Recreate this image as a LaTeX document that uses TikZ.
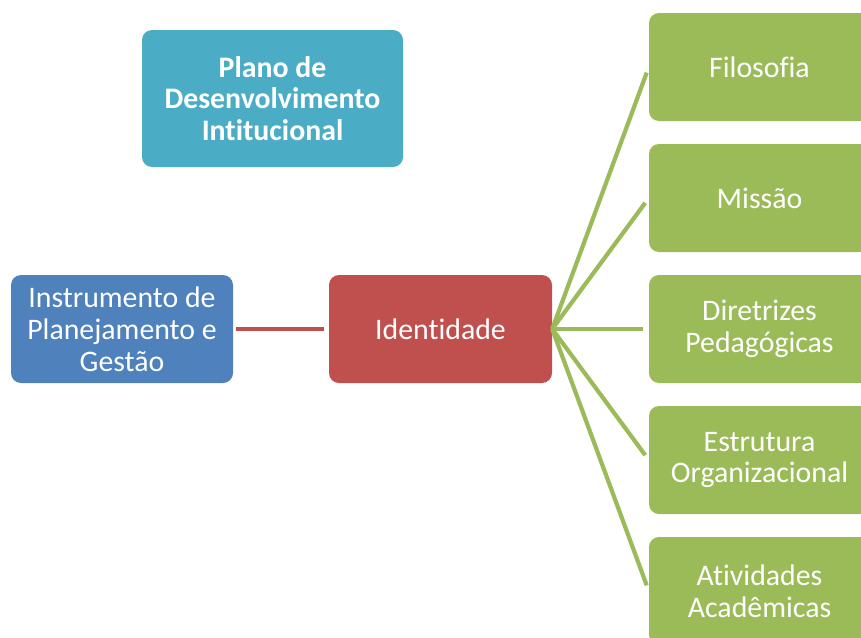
\documentclass[tikz,border=0pt]{standalone}
\usepackage{fontspec}
\setmainfont{Carlito}[Ligatures=NoCommon]
\definecolor{cteal}{HTML}{4BACC6}
\definecolor{cblue}{HTML}{4F81BD}
\definecolor{cred}{HTML}{C0504D}
\definecolor{cgreen}{HTML}{9BBB59}
\begin{document}
\begin{tikzpicture}[x=1pt,y=-1pt,
  box/.style={rectangle, rounded corners=10pt, text=white, align=center,
    inner sep=0pt, minimum height=108pt,
    font=\fontsize{29.8}{31.8}\selectfont},
  gbox/.style={box, fill=cgreen, minimum width=221pt},
  gline/.style={draw=cgreen, line width=4.2pt, shorten >=6pt}
]
\useasboundingbox (0,0) rectangle (861,637);
\clip (0,0) rectangle (861,637);
\node[box, fill=cteal, minimum width=261pt, minimum height=137pt,
  font=\fontsize{29.8}{31.8}\selectfont\bfseries] (pdi) at (272.5,98.5)
  {Plano de\\Desenvolvimento\\Intitucional};
\node[box, fill=cblue, minimum width=222pt] (inst) at (122,329)
  {Instrumento de\\Planejamento e\\Gestão};
\node[box, fill=cred, minimum width=223pt] (iden) at (440.5,329) {Identidade};
\node[gbox] (g1) at (759.5,67) {Filosofia};
\node[gbox] (g2) at (759.5,198) {Missão};
\node[gbox] (g3) at (759.5,329) {Diretrizes\\Pedagógicas};
\node[gbox] (g4) at (759.5,460) {Estrutura\\Organizacional};
\node[gbox] (g5) at (759.5,591) {Atividades\\Acadêmicas};
\draw[cred, line width=4.2pt, shorten <=3pt, shorten >=5pt] (inst.east) -- (iden.west);
\foreach \g in {g1,g2,g3,g4,g5}
  \draw[gline] (iden.east) -- (\g.west);
\end{tikzpicture}
\end{document}
